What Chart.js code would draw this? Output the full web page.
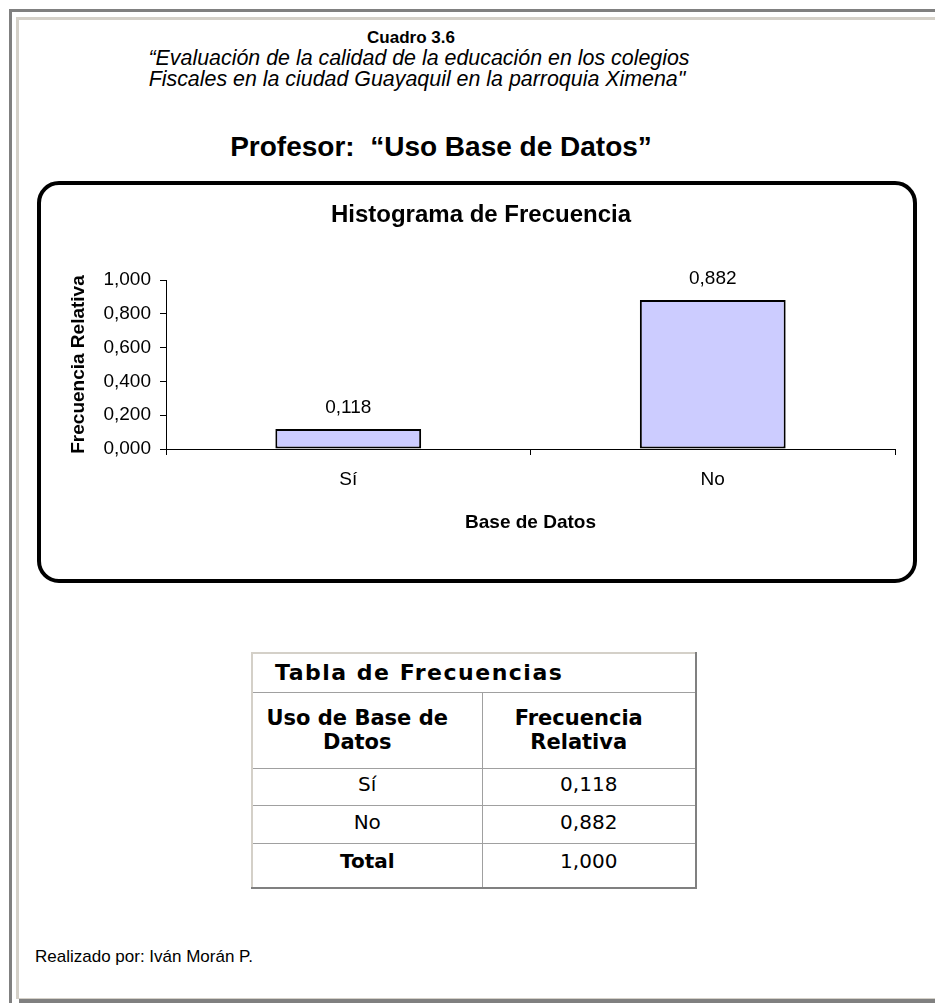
<!DOCTYPE html>
<html>
<head>
<meta charset="utf-8">
<script src="https://cdn.jsdelivr.net/npm/chart.js@4.4.0/dist/chart.umd.min.js"></script>
<style>
  body { margin:0; background:#fff; width:935px; height:1003px; overflow:hidden; position:relative; font-family:"Liberation Sans", Arial, sans-serif; color:#000; }
  .marco1 { position:absolute; left:9px; top:9px; width:1000px; height:1000px; border-left:3px solid #808080; border-top:3px solid #808080; }
  .marco2 { position:absolute; left:16px; top:17px; width:1000px; height:978px; border-left:3px solid #d4d0c8; border-top:3px solid #d4d0c8; border-bottom:1px solid #d4d0c8; }
  .pie { position:absolute; left:19px; top:999px; width:1000px; height:4px; background:#808080; }
  .txt { position:absolute; white-space:nowrap; text-align:center; width:700px; }
  #caja { position:absolute; left:37px; top:181px; width:872px; height:394px; border:4px solid #000; border-radius:22px; }
  #caja canvas { position:absolute; left:0; top:0; }
  table { position:absolute; left:251px; top:652px; width:446px; border-collapse:collapse; table-layout:fixed;
    border-top:2px solid #d4d0c8; border-left:2px solid #d4d0c8; border-right:2px solid #808080; border-bottom:2px solid #808080; }
  td { border:1px solid #a0a0a0; text-align:center; font-family:"DejaVu Sans", Verdana, sans-serif; font-size:20px; padding:0; line-height:24px; box-sizing:border-box; }
  td.b { font-weight:bold; }
  td.h { font-size:21px; padding-right:20px; }
</style>
</head>
<body>
<div class="marco1"></div>
<div class="marco2"></div>
<div class="pie"></div>

<div class="txt" style="left:61px;top:27px;font-weight:bold;font-size:17px;line-height:22px;">Cuadro 3.6</div>
<div class="txt" style="left:69px;top:46px;font-style:italic;font-size:21.4px;line-height:24px;">“Evaluación de la calidad de la educación en los colegios</div>
<div class="txt" style="left:67px;top:67px;font-style:italic;font-size:21.4px;line-height:24px;">Fiscales en la ciudad Guayaquil en la parroquia Ximena"</div>
<div class="txt" style="left:91px;top:131px;font-weight:bold;font-size:28px;line-height:32px;">Profesor:&nbsp; “Uso Base de Datos”</div>

<div id="caja"><canvas id="chart" width="872" height="394"></canvas></div>

<table id="tabla"></table>

<div style="position:absolute;left:35px;top:947px;font-size:17px;line-height:20px;">Realizado por: Iván Morán P.</div>

<script>
var categorias = ["Sí", "No"];
var frecuencias = [0.118, 0.882];
var tituloGrafico = "Histograma de Frecuencia";
var tituloX = "Base de Datos";
var tituloY = "Frecuencia Relativa";

function formato(v){
  return v.toFixed(3).replace(".", ",");
}

// etiquetas de valor encima de cada barra
var etiquetas = {
  id: "etiquetas",
  afterDatasetsDraw: function(chart){
    var ctx = chart.ctx;
    var meta = chart.getDatasetMeta(0);
    ctx.save();
    ctx.font = "19px 'Liberation Sans', Arial";
    ctx.fillStyle = "#000";
    ctx.textAlign = "center";
    ctx.textBaseline = "middle";
    meta.data.forEach(function(bar, i){
      ctx.fillText(formato(frecuencias[i]), bar.x, bar.y - 21);
    });
    ctx.restore();
  }
};

var fuente = { family: "'Liberation Sans', Arial", size: 19 };

var datos = {
  type: "bar",
  data: {
    labels: categorias,
    datasets: [{
      data: frecuencias,
      backgroundColor: "#ccccff",
      borderColor: "#000",
      borderWidth: 2,
      borderSkipped: false,
      barPercentage: 0.4,
      categoryPercentage: 1
    }]
  },
  options: {
    responsive: false,
    animation: false,
    layout: { padding: { left: 26, right: 18, top: 0, bottom: 44.4 } },
    plugins: {
      legend: { display: false },
      tooltip: { enabled: false },
      title: {
        display: true,
        text: tituloGrafico,
        color: "#000",
        font: { family: "'Liberation Sans', Arial", size: 24, weight: "bold" },
        padding: { top: 16, bottom: 50.2 }
      }
    },
    scales: {
      x: {
        grid: { drawOnChartArea: false, drawTicks: true, tickLength: 6, color: "#000", offset: true },
        border: { display: true, color: "#000", width: 1 },
        ticks: { color: "#000", font: fuente, padding: 13 },
        title: {
          display: true, text: tituloX, color: "#000",
          font: { family: "'Liberation Sans', Arial", size: 19, weight: "bold" },
          padding: { top: 8, bottom: 0 }
        }
      },
      y: {
        min: 0,
        max: 1,
        afterFit: function(scale){ scale.width = 99; },
        grid: { drawOnChartArea: false, drawTicks: true, tickLength: 6, color: "#000" },
        border: { display: true, color: "#000", width: 1 },
        ticks: {
          stepSize: 0.2, color: "#000", font: fuente, padding: 9,
          callback: function(v){ return formato(v); }
        },
        title: {
          display: true, text: tituloY, color: "#000",
          font: { family: "'Liberation Sans', Arial", size: 19, weight: "bold" },
          padding: { top: 0, bottom: 0 }
        }
      }
    }
  },
  plugins: [etiquetas]
};

var canvas = document.getElementById("chart").getContext("2d");
window.barras = new Chart(canvas, datos);

// tabla de frecuencias
var total = frecuencias.reduce(function(a, b){ return a + b; }, 0);
var html = '<colgroup><col style="width:230px"><col></colgroup>';
html += '<tr style="height:39px"><td class="b" colspan="2" style="text-align:left;padding-left:22px;font-size:22px;letter-spacing:1.5px">Tabla de Frecuencias</td></tr>';
html += '<tr style="height:76px"><td class="b h">Uso de Base de<br>Datos</td><td class="b h">Frecuencia<br>Relativa</td></tr>';
var alturas = [37, 38];
for (var i = 0; i < categorias.length; i++){
  html += '<tr style="height:' + alturas[i] + 'px"><td style="padding-bottom:5px">' + categorias[i] + '</td><td style="padding-bottom:5px">' + formato(frecuencias[i]) + '</td></tr>';
}
html += '<tr style="height:45px"><td class="b" style="padding-bottom:8px">Total</td><td style="padding-bottom:8px">' + formato(total) + '</td></tr>';
document.getElementById("tabla").innerHTML = html;
</script>
</body>
</html>
